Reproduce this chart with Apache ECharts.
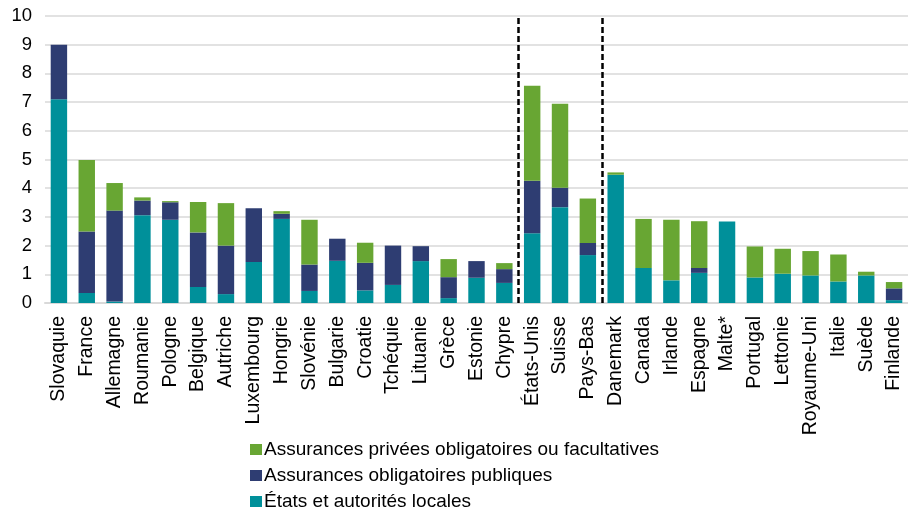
<!DOCTYPE html>
<html>
<head>
<meta charset="utf-8">
<script src="https://cdn.jsdelivr.net/npm/echarts@6/dist/echarts.min.js"></script>
<style>html,body{margin:0;padding:0;background:#fff}#c{width:908px;height:512px}</style>
</head>
<body>
<div id="c"></div>
<script>
const categories = ['Slovaquie','France','Allemagne','Roumanie','Pologne','Belgique','Autriche','Luxembourg','Hongrie','Slovénie','Bulgarie','Croatie','Tchéquie','Lituanie','Grèce','Estonie','Chypre','États-Unis','Suisse','Pays-Bas','Danemark','Canada','Irlande','Espagne','Malte*','Portugal','Lettonie','Royaume-Uni','Italie','Suède','Finlande'];
const etats = [7.10,0.35,0.05,3.06,2.90,0.56,0.31,1.43,2.93,0.42,1.47,0.44,0.63,1.46,0.17,0.88,0.70,2.43,3.34,1.67,4.47,1.22,0.79,1.05,2.84,0.89,1.02,0.96,0.75,0.96,0.10];
const publiques = [1.90,2.14,3.17,0.51,0.61,1.90,1.69,1.87,0.18,0.92,0.77,0.96,1.37,0.52,0.73,0.58,0.48,1.83,0.68,0.42,0,0,0,0.17,0,0,0,0,0,0,0.41];
const privees = [0,2.49,0.96,0.11,0.04,1.06,1.48,0,0.09,1.56,0,0.70,0,0,0.63,0,0.21,3.31,2.92,1.55,0.08,1.71,2.11,1.63,0,1.08,0.87,0.85,0.94,0.13,0.22];
const separators = [17, 20];
const yTicks = {min: 0, max: 10, interval: 1};
const names = ['États et autorités locales','Assurances obligatoires publiques','Assurances privées obligatoires ou facultatives'];

const font = 'Liberation Sans, Arial, sans-serif';
const chart = echarts.init(document.getElementById('c'), null, {renderer: 'canvas'});
chart.setOption({
  animation: false,
  backgroundColor: '#fff',
  grid: {left: 45, right: 0, top: 16, bottom: 209, containLabel: false},
  legend: {
    orient: 'vertical', left: 250, top: 440, height: 90, padding: 0,
    itemWidth: 12, itemHeight: 11, itemGap: 7,
    icon: 'rect',
    data: [names[2], names[1], names[0]],
    textStyle: {fontFamily: font, fontSize: 19, color: '#000', padding: [0,0,0,-3]}
  },
  xAxis: [{
    type: 'category', data: categories,
    axisLine: {lineStyle: {color: '#d9d9d9', width: 2}},
    axisTick: {show: false},
    axisLabel: {rotate: 90, interval: 0, margin: 13, fontFamily: font, fontSize: 19.5, color: '#000'}
  }, {
    type: 'value', min: 0, max: categories.length, show: false
  }],
  yAxis: {
    type: 'value', min: yTicks.min, max: yTicks.max, interval: yTicks.interval,
    axisLine: {show: false}, axisTick: {show: false},
    splitLine: {lineStyle: {color: '#d9d9d9', width: 1.5}},
    axisLabel: {fontFamily: font, fontSize: 18.5, color: '#000', margin: 13}
  },
  series: [
    {name: names[0], type: 'bar', stack: 's', data: etats, barCategoryGap: '41%', itemStyle: {color: '#00909a'}},
    {name: names[1], type: 'bar', stack: 's', data: publiques, itemStyle: {color: '#2e3d72'}},
    {name: names[2], type: 'bar', stack: 's', data: privees, itemStyle: {color: '#68a633'}},
    {
      type: 'line', xAxisIndex: 1, data: [], silent: true,
      markLine: {
        symbol: 'none', silent: true, label: {show: false},
        lineStyle: {color: '#000', type: [6, 3], width: 2.5},
        data: separators.map(v => ({xAxis: v}))
      }
    }
  ]
});
</script>
</body>
</html>
